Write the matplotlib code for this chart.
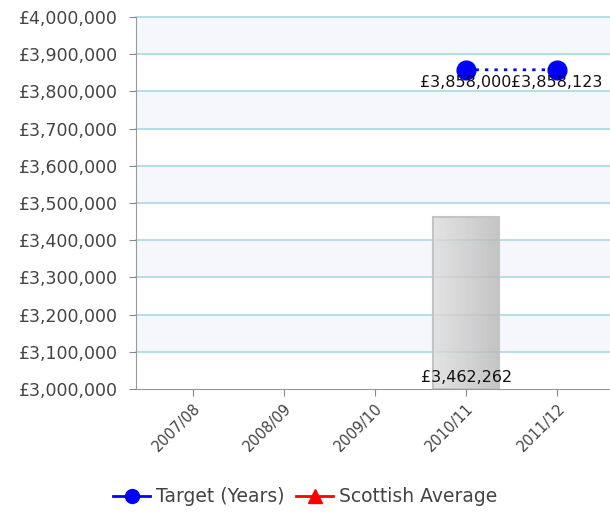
import matplotlib
matplotlib.use('Agg')
import matplotlib.pyplot as plt
import numpy as np
from matplotlib.patches import Rectangle
from matplotlib.lines import Line2D

years = ['2007/08', '2008/09', '2009/10', '2010/11', '2011/12']
actual = [np.nan, np.nan, np.nan, 3462262, np.nan]
target = [np.nan, np.nan, np.nan, 3858000, 3858123]
scottish_avg = [np.nan, np.nan, np.nan, np.nan, np.nan]

ymin, ymax, ystep = 3000000, 4000000, 100000

plt.rcParams['font.family'] = ['DejaVu Sans']
fig = plt.figure(figsize=(6.1, 5.16), dpi=100)
ax = fig.add_axes([136 / 610, 1 - 389 / 516, 474 / 610, 372 / 516])

x = np.arange(len(years))
ax.set_xlim(-0.625, 4.58)
ax.set_ylim(ymin, ymax)

# alternating background bands + gridlines (skip the baseline, the spine covers it)
for i, lo in enumerate(range(ymin, ymax, ystep)):
    if i % 2 == 1:
        ax.axhspan(lo, lo + ystep, color='#f5f7fd', zorder=0, lw=0)
for v in range(ymin + ystep, ymax + 1, ystep):
    ax.axhline(v, color='#a8d8e2', lw=1.2, zorder=1, clip_on=False)

# bars with horizontal grey gradient, slightly see-through
grad = np.linspace(0, 1, 256).reshape(1, -1)
cmap = matplotlib.colors.LinearSegmentedColormap.from_list('g', ['#dedede', '#b8b8b8'])
width = 0.73
for xi, val in zip(x, actual):
    if np.isnan(val):
        continue
    rect = Rectangle((xi - width / 2, ymin), width, val - ymin, facecolor='none',
                     edgecolor='#c4c4c4', lw=1.5, zorder=3)
    ax.add_patch(rect)
    im = ax.imshow(grad, extent=(xi - width / 2, xi + width / 2, ymin, val),
                   aspect='auto', cmap=cmap, zorder=2, alpha=0.82)
    im.set_clip_path(rect)
    ax.text(xi, ymin + 12000, f'£{val:,.0f}', ha='center', va='bottom',
            fontsize=11.5, color='#111111', zorder=5)

ax.plot(x, target, color='#0000ff', ls=(0, (1.2, 2.2)), lw=2, marker='o',
        markersize=13.5, zorder=4)
ax.plot(x, scottish_avg, color='#ff0000', lw=2, marker='^', markersize=11,
        zorder=4)
for xi, val in zip(x, target):
    if np.isnan(val):
        continue
    ax.text(xi, val - 13000, f'£{val:,.0f}', ha='center', va='top',
            fontsize=11.5, color='#111111', zorder=5)

ax.set_xticks(x)
ax.set_xticklabels(years, rotation=45, ha='right', rotation_mode='anchor',
                   fontsize=10.5)
ax.set_yticks(range(ymin, ymax + 1, ystep))
ax.set_yticklabels([f'£{v:,}' for v in range(ymin, ymax + 1, ystep)], fontsize=12.5)
ax.tick_params(axis='both', colors='#888888', length=5, labelcolor='#444444')
ax.tick_params(axis='y', pad=8)
for s in ['top', 'right']:
    ax.spines[s].set_visible(False)
for s in ['left', 'bottom']:
    ax.spines[s].set_color('#999999')
    ax.spines[s].set_zorder(6)

handles = [
    Line2D([], [], color='#0000ff', lw=2, marker='o', markersize=10),
    Line2D([], [], color='#ff0000', lw=2, marker='^', markersize=10),
]
fig.legend(handles, ['Target (Years)', 'Scottish Average'], loc='center',
           bbox_to_anchor=(0.5, 1 - 497 / 516), ncol=2, frameon=False,
           fontsize=13.5, handlelength=2.0, columnspacing=0.6, handletextpad=0.3,
           labelcolor='#444444')

fig.savefig('out.png', dpi=100)
